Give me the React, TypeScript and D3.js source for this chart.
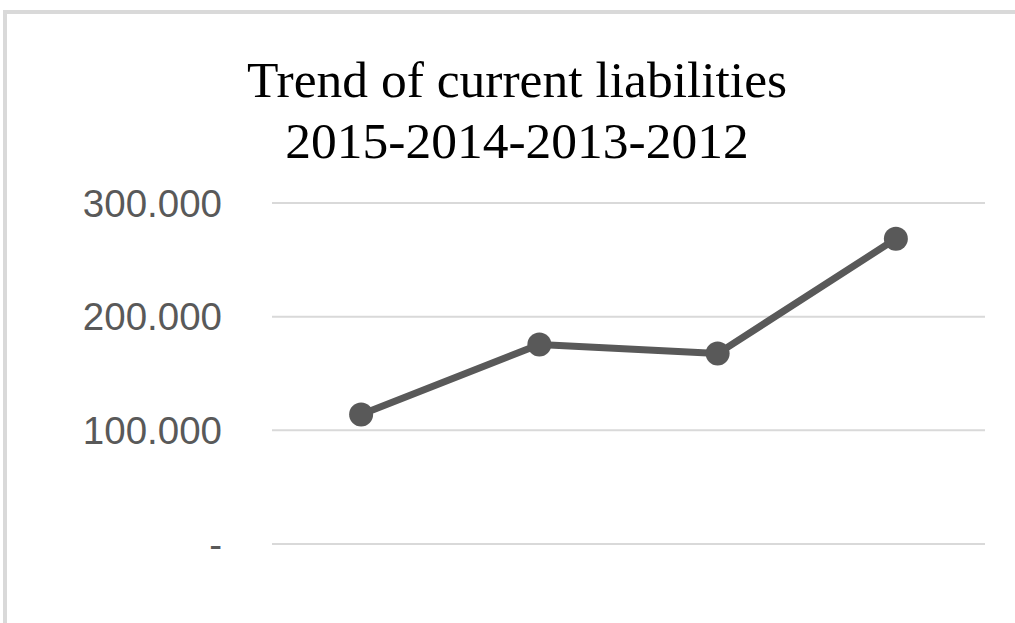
import React from "react";
import * as d3 from "d3";

const categories = ["2015", "2014", "2013", "2012"];
const values = [114000, 175500, 167500, 268500];
const yTicks = [0, 100000, 200000, 300000];
const titleLines = ["Trend of current liabilities", "2015-2014-2013-2012"];

const W = 1015;
const H = 623;

export default function App() {
  const x = d3.scaleBand<string>().domain(categories).range([272, 985]);
  const y = d3.scaleLinear().domain([0, 300000]).range([544, 203]);
  const line = d3
    .line<number>()
    .x((_, i) => (x(categories[i]) as number) + x.bandwidth() / 2)
    .y((d) => y(d));
  const fmt = (v: number) =>
    v === 0 ? "-" : d3.format(",.3f")(v / 1000).replace(/,/g, "");

  return (
    <svg
      width={W}
      height={H}
      style={{ position: "absolute", left: 0, top: 0, background: "#fff" }}
    >
      <rect x={5} y={12} width={W + 20} height={H + 20} fill="#fff" stroke="#d9d9d9" strokeWidth={4} />
      <g fontFamily="'Liberation Serif', 'Times New Roman', serif" fontSize={51.5} fill="#000" textAnchor="middle">
        {titleLines.map((t, i) => (
          <text key={i} x={517} y={97 + i * 61}>
            {t}
          </text>
        ))}
      </g>
      <g>
        {yTicks.map((t) => (
          <g key={t}>
            <line x1={272} x2={985} y1={y(t)} y2={y(t)} stroke="#d9d9d9" strokeWidth={2} />
            <text
              x={222}
              y={y(t) + 13.5}
              textAnchor="end"
              fontFamily="'Liberation Sans', Arial, sans-serif"
              fontSize={38.5}
              fill="#595959"
            >
              {fmt(t)}
            </text>
          </g>
        ))}
      </g>
      <path d={line(values) || ""} fill="none" stroke="#595959" strokeWidth={7} strokeLinejoin="round" />
      {values.map((v, i) => (
        <circle
          key={i}
          cx={(x(categories[i]) as number) + x.bandwidth() / 2}
          cy={y(v)}
          r={12}
          fill="#595959"
        />
      ))}
    </svg>
  );
}
